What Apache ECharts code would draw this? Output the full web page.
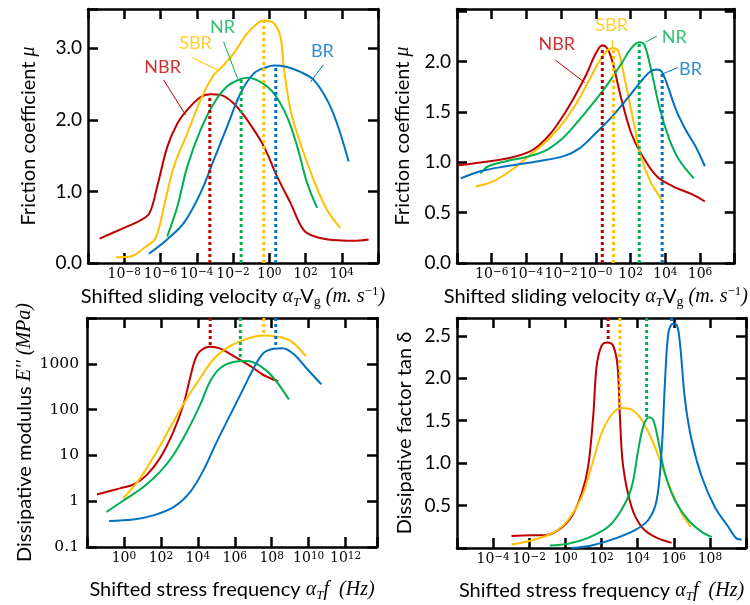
<!DOCTYPE html>
<html><head><meta charset="utf-8">
<script src="https://cdn.jsdelivr.net/npm/echarts@6/dist/echarts.min.js"></script>
<style>html,body{margin:0;padding:0;background:#fff}#c{width:750px;height:605px}</style>
</head><body><div id="c"></div>
<script>
// ---------- categories ----------
const rubbers = ['NBR', 'SBR', 'NR', 'BR'];
const rubberColors = ['#C00000', '#FFC000', '#00B050', '#0070C0'];

// ---------- Panel A (top-left): friction coefficient vs log10(shifted sliding velocity) ----------
const fricA_NBR = [[-9.36,0.34],[-8.2,0.47],[-7.09,0.60],[-6.6,0.70],[-6.18,1.07],[-5.63,1.62],[-5.07,1.95],[-4.52,2.14],[-3.79,2.32],[-3.24,2.36],[-2.69,2.35],[-1.96,2.23],[-1.22,2.0],[-0.30,1.63],[0.43,1.21],[1.17,0.84],[1.90,0.46],[2.64,0.36],[3.55,0.32],[4.66,0.31],[5.48,0.33]];
const fricA_SBR = [[-8.47,0.08],[-7.65,0.09],[-6.91,0.21],[-6.27,0.35],[-5.81,0.79],[-5.26,1.35],[-4.52,1.81],[-3.79,2.28],[-3.06,2.63],[-2.69,2.72],[-1.96,2.93],[-1.22,3.21],[-0.49,3.38],[-0.30,3.39],[0.25,3.35],[0.62,3.16],[0.80,2.74],[1.17,2.14],[1.72,1.67],[2.45,1.16],[3.19,0.74],[3.92,0.49]];
const fricA_NR  = [[-5.63,0.37],[-5.07,0.79],[-4.52,1.35],[-3.79,1.86],[-3.06,2.23],[-2.32,2.47],[-1.59,2.57],[-1.22,2.59],[-0.49,2.53],[0.25,2.37],[0.99,2.04],[1.54,1.63],[2.09,1.12],[2.64,0.77]];
const fricA_BR  = [[-6.64,0.13],[-5.63,0.33],[-4.71,0.56],[-3.79,0.98],[-3.06,1.44],[-2.32,1.91],[-1.59,2.37],[-0.85,2.65],[-0.12,2.74],[0.25,2.76],[0.99,2.74],[1.72,2.67],[2.45,2.56],[3.19,2.28],[3.74,1.95],[4.38,1.42]];
const fricA_peakX = [-3.28, -0.30, -1.55, 0.36];
const fricA_peakY = [2.34, 3.39, 2.56, 2.75];
const fricA_xTickVals = [-8, -6, -4, -2, 0, 2, 4];
const fricA_xTickExps = ['\u22128', '\u22126', '\u22124', '\u22122', '0', '2', '4'];
const fricA_yTickVals = [0, 1, 2, 3];
const fricA_yTickLabels = ['0.0', '1.0', '2.0', '3.0'];

// ---------- Panel B (top-right): friction coefficient vs log10(shifted sliding velocity) ----------
const fricB_NBR = [[-7.94,0.97],[-6.09,1.01],[-4.80,1.05],[-3.88,1.10],[-3.32,1.16],[-2.58,1.29],[-1.85,1.47],[-1.10,1.69],[-0.55,1.87],[0.00,2.08],[0.37,2.16],[0.65,2.13],[0.92,2.02],[1.48,1.62],[2.03,1.29],[2.59,1.09],[3.51,0.86],[4.44,0.76],[5.55,0.68],[6.28,0.61]];
const fricB_SBR = [[-6.93,0.76],[-5.91,0.81],[-4.80,0.93],[-3.88,1.06],[-2.96,1.19],[-2.03,1.36],[-1.10,1.59],[-0.37,1.82],[0.19,2.00],[0.74,2.12],[1.02,2.13],[1.30,2.10],[1.67,1.82],[2.22,1.36],[2.59,1.06],[3.14,0.81],[3.79,0.63]];
const fricB_NR  = [[-6.65,0.89],[-6.19,0.96],[-5.17,1.01],[-4.06,1.05],[-2.96,1.11],[-2.03,1.22],[-1.10,1.39],[0.00,1.62],[0.74,1.79],[1.48,1.98],[2.03,2.13],[2.50,2.19],[2.78,2.17],[3.14,1.95],[3.70,1.52],[4.25,1.22],[4.81,1.02],[5.64,0.84]];
const fricB_BR  = [[-7.79,0.84],[-6.65,0.91],[-5.17,0.96],[-3.32,1.01],[-1.85,1.06],[-0.92,1.14],[0.00,1.29],[0.92,1.45],[1.85,1.64],[2.59,1.80],[3.14,1.90],[3.51,1.92],[3.79,1.90],[4.07,1.79],[4.62,1.52],[5.18,1.32],[5.73,1.16],[6.28,0.96]];
const fricB_peakX = [0.37, 1.02, 2.50, 3.82];
const fricB_peakY = [2.15, 2.13, 2.19, 1.90];
const fricB_xTickVals = [-6, -4, -2, 0, 2, 4, 6];
const fricB_xTickExps = ['\u22126', '\u22124', '\u22122', '\u22120', '2', '4', '6'];
const fricB_yTickVals = [0, 0.5, 1, 1.5, 2];
const fricB_yTickLabels = ['0.0', '0.5', '1.0', '1.5', '2.0'];

// ---------- Panel C (bottom-left): log10 E'' (MPa) vs log10(shifted frequency) ----------
const modC_NBR = [[-1.46,0.145],[-0.22,0.28],[0.50,0.36],[1.23,0.57],[1.95,0.94],[2.68,1.52],[3.22,2.11],[3.58,2.69],[3.86,3.10],[4.13,3.28],[4.67,3.37],[5.22,3.33],[5.94,3.17],[6.85,2.95],[7.57,2.75],[8.35,2.62]];
const modC_SBR = [[-0.04,0.06],[0.87,0.50],[1.77,1.08],[2.68,1.74],[3.41,2.25],[4.13,2.69],[4.85,3.10],[5.76,3.39],[6.67,3.55],[7.57,3.62],[8.30,3.59],[9.02,3.50],[9.84,3.17]];
const modC_NR  = [[-0.95,-0.235],[0.14,0.06],[1.05,0.31],[1.95,0.64],[2.68,1.01],[3.41,1.52],[4.13,2.11],[4.67,2.62],[5.22,2.91],[5.94,3.04],[6.67,3.06],[7.39,2.95],[8.11,2.69],[8.93,2.22]];
const modC_BR  = [[-0.80,-0.43],[0.50,-0.40],[1.59,-0.31],[2.68,-0.13],[3.58,0.20],[4.31,0.68],[5.03,1.30],[5.76,1.89],[6.48,2.47],[7.03,2.91],[7.57,3.24],[8.11,3.33],[8.57,3.34],[9.20,3.21],[9.93,2.88],[10.69,2.55]];
const modC_peakX = [4.67, 7.57, 6.30, 8.22];
const modC_peakY = [3.37, 3.62, 3.05, 3.33];
const modC_xTickVals = [0, 2, 4, 6, 8, 10, 12];
const modC_xTickExps = ['0', '2', '4', '6', '8', '10', '12'];
const modC_yTickVals = [-1, 0, 1, 2, 3];
const modC_yTickLabels = ['0.1', '1', '10', '100', '1000'];

// ---------- Panel D (bottom-right): tan delta vs log10(shifted frequency) ----------
const tanD_NBR = [[-2.98,0.14],[-1.88,0.15],[-1.14,0.15],[-0.40,0.21],[0.34,0.37],[0.90,0.64],[1.26,0.96],[1.54,1.55],[1.73,2.14],[2.00,2.38],[2.32,2.42],[2.65,2.38],[2.89,2.14],[3.02,1.55],[3.20,0.96],[3.67,0.48],[4.22,0.25],[4.96,0.13],[5.88,0.06]];
const tanD_SBR = [[-2.98,0.04],[-1.69,0.10],[-0.58,0.19],[0.15,0.33],[0.90,0.60],[1.45,0.96],[2.00,1.35],[2.56,1.57],[3.11,1.65],[3.67,1.63],[4.22,1.51],[4.96,1.19],[5.70,0.76],[6.44,0.41],[6.95,0.25]];
const tanD_NR  = [[-0.86,0.03],[0.15,0.05],[1.26,0.12],[2.37,0.25],[3.11,0.45],[3.67,0.72],[4.03,1.15],[4.31,1.43],[4.63,1.54],[4.86,1.51],[5.14,1.27],[5.51,0.88],[6.07,0.56],[6.80,0.33],[7.55,0.19],[8.10,0.13]];
const tanD_BR  = [[0.34,0.00],[1.45,0.03],[2.74,0.11],[3.85,0.21],[4.59,0.33],[5.05,0.56],[5.33,1.15],[5.51,1.94],[5.70,2.53],[5.94,2.64],[6.16,2.63],[6.34,2.42],[6.62,1.75],[6.99,1.27],[7.55,0.84],[8.28,0.48],[9.02,0.25],[9.49,0.11],[9.76,0.10]];
const tanD_peakX = [2.37, 3.02, 4.50, 5.88];
const tanD_peakY = [2.42, 1.65, 1.54, 2.64];
const tanD_xTickVals = [-4, -2, 0, 2, 4, 6, 8];
const tanD_xTickExps = ['\u22124', '\u22122', '0', '2', '4', '6', '8'];
const tanD_yTickVals = [0.5, 1, 1.5, 2, 2.5];
const tanD_yTickLabels = ['0.5', '1.0', '1.5', '2.0', '2.5'];

// ---------- styling / layout ----------
const SANS = 'Lato';
const SERIF = 'Liberation Serif';
const TICKSERIF = 'DejaVu Serif';
const INK = '#000';

const panels = [
  { grid: {left: 88, top: 9, width: 290, height: 254}, xr: [-10, 6], yr: [0, 3.55], yInt: 1,
    series: [fricA_NBR, fricA_SBR, fricA_NR, fricA_BR], peakX: fricA_peakX, peakY: fricA_peakY, dotFromTop: false,
    xVals: fricA_xTickVals, xExps: fricA_xTickExps, yVals: fricA_yTickVals, yLabels: fricA_yTickLabels, ySerif: false,
    xName: '{t|Shifted sliding velocity }{m|\u03b1}{sub|T}{t|V}{subu|g}{m| (m. s}{sup|\u22121}{m|)}', xGap: 22,
    yName: '{t|Friction coefficient }{m|\u03bc}', yGap: 47,
    // annotation [labelX, labelY, lineX1, lineY1, lineX2, lineY2]
    notes: [[-5.88,2.74,-5.83,2.56,-4.62,2.07],[-4.07,3.07,-4.23,2.87,-2.80,2.69],[-2.58,3.30,-2.52,3.09,-1.75,2.58],[2.93,2.96,2.99,2.77,2.27,2.53]] },
  { grid: {left: 457, top: 9, width: 289, height: 254}, xr: [-8, 8], yr: [0, 2.52], yInt: 0.5,
    series: [fricB_NBR, fricB_SBR, fricB_NR, fricB_BR], peakX: fricB_peakX, peakY: fricB_peakY, dotFromTop: false,
    xVals: fricB_xTickVals, xExps: fricB_xTickExps, yVals: fricB_yTickVals, yLabels: fricB_yTickLabels, ySerif: false,
    xName: '{t|Shifted sliding velocity }{m|\u03b1}{sub|T}{t|V}{subu|g}{m| (m. s}{sup|\u22121}{m|)}', xGap: 22,
    yName: '{t|Friction coefficient }{m|\u03bc}', yGap: 42,
    notes: [[-2.25,2.17,-2.31,2.01,-0.64,1.79],[0.91,2.36,0.96,2.21,0.96,2.13],[4.51,2.24,3.51,2.25,2.85,2.19],[5.45,1.92,4.73,1.94,3.90,1.88]] },
  { grid: {left: 87, top: 318, width: 290, height: 229}, xr: [-2, 13.7], yr: [-1, 4], yInt: 1,
    series: [modC_NBR, modC_SBR, modC_NR, modC_BR], peakX: modC_peakX, peakY: modC_peakY, dotFromTop: true,
    xVals: modC_xTickVals, xExps: modC_xTickExps, yVals: modC_yTickVals, yLabels: modC_yTickLabels, ySerif: true,
    xName: '{t|Shifted stress frequency }{m|\u03b1}{sub|T}{m|f  (Hz)}', xGap: 31,
    yName: '{t|Dissipative modulus }{m|E\u2032\u2032 (MPa)}', yGap: 50,
    notes: [] },
  { grid: {left: 457, top: 318, width: 289, height: 230}, xr: [-6, 10], yr: [0, 2.71], yInt: 0.5,
    series: [tanD_NBR, tanD_SBR, tanD_NR, tanD_BR], peakX: tanD_peakX, peakY: tanD_peakY, dotFromTop: true,
    xVals: tanD_xTickVals, xExps: tanD_xTickExps, yVals: tanD_yTickVals, yLabels: tanD_yTickLabels, ySerif: false,
    xName: '{t|Shifted stress frequency }{m|\u03b1}{sub|T}{m|f  (Hz)}', xGap: 31,
    yName: '{t|Dissipative factor tan \u03b4}', yGap: 40,
    notes: [] }
];

const nameRich = {
  t: {fontFamily: SANS, fontSize: 20, color: INK, lineHeight: 24},
  m: {fontFamily: SERIF, fontStyle: 'italic', fontSize: 20, color: INK, lineHeight: 24},
  sub: {fontFamily: SERIF, fontStyle: 'italic', fontSize: 13, color: INK, lineHeight: 13, verticalAlign: 'bottom'},
  subu: {fontFamily: SERIF, fontSize: 14, color: INK, lineHeight: 13, verticalAlign: 'bottom'},
  sup: {fontFamily: SERIF, fontSize: 13, color: INK, lineHeight: 13, verticalAlign: 'top'}
};
const tickRich = {
  base: {fontFamily: TICKSERIF, fontSize: 14, color: INK, lineHeight: 14, padding: [3, 0, 0, 0], verticalAlign: 'bottom'},
  sp: {fontFamily: TICKSERIF, fontSize: 10.5, color: INK, lineHeight: 10, verticalAlign: 'top'}
};
const lineSt = {color: INK, width: 2.5};
const baseAxis = {
  type: 'value',
  axisLine: {show: true, onZero: false, lineStyle: lineSt},
  axisTick: {show: true, inside: true, length: 10, lineStyle: lineSt},
  splitLine: {show: false}
};
function findIdx(vals, v) { return vals.findIndex(t => Math.abs(t - v) < 1e-6); }

const option = {
  animation: false,
  backgroundColor: '#fff',
  grid: [], xAxis: [], yAxis: [], series: []
};

panels.forEach((p, gi) => {
  option.grid.push(Object.assign({containLabel: false}, p.grid));
  option.xAxis.push(Object.assign({}, baseAxis, {
    gridIndex: gi, position: 'bottom', min: p.xr[0], max: p.xr[1], interval: 2,
    axisLabel: {margin: 4, rich: tickRich, showMinLabel: true, showMaxLabel: true,
      fontFamily: TICKSERIF, fontSize: 14, color: INK,
      formatter: v => { const i = findIdx(p.xVals, v); return i < 0 ? '' : '{base|10}{sp|' + p.xExps[i] + '}'; }},
    name: p.xName, nameLocation: 'middle', nameGap: p.xGap,
    nameTextStyle: {rich: nameRich, fontFamily: SANS, fontSize: 20, color: INK}
  }));
  option.xAxis.push(Object.assign({}, baseAxis, {
    gridIndex: gi, position: 'top', min: p.xr[0], max: p.xr[1], interval: 2, axisLabel: {show: false}
  }));
  option.yAxis.push(Object.assign({}, baseAxis, {
    gridIndex: gi, position: 'left', min: p.yr[0], max: p.yr[1], interval: p.yInt,
    axisLabel: {margin: p.ySerif ? 8 : 6, showMinLabel: true, color: INK,
      fontFamily: p.ySerif ? TICKSERIF : SANS, fontSize: p.ySerif ? 15.5 : 19,
      formatter: v => { const i = findIdx(p.yVals, v); return i < 0 ? '' : p.yLabels[i]; }},
    name: p.yName, nameLocation: 'middle', nameGap: p.yGap, nameRotate: 90,
    nameTextStyle: {rich: nameRich, fontFamily: SANS, fontSize: 20, color: INK}
  }));
  option.yAxis.push(Object.assign({}, baseAxis, {
    gridIndex: gi, position: 'right', min: p.yr[0], max: p.yr[1], interval: p.yInt, axisLabel: {show: false}
  }));
  const xi = gi * 2, yi = gi * 2;
  p.series.forEach((d, k) => {
    option.series.push({
      type: 'line', name: rubbers[k], xAxisIndex: xi, yAxisIndex: yi, data: d,
      smooth: 0.35, showSymbol: false, symbol: 'none', silent: true,
      lineStyle: {color: rubberColors[k], width: 2}, z: 3
    });
  });
  p.peakX.forEach((x, k) => {
    const yEdge = p.dotFromTop ? p.yr[1] : p.yr[0];
    option.series.push({
      type: 'line', xAxisIndex: xi, yAxisIndex: yi, data: [[x, yEdge], [x, p.peakY[k]]],
      symbol: 'none', silent: true,
      lineStyle: {color: rubberColors[k], width: 3, type: [3, 3]}, z: 4
    });
  });
  p.notes.forEach((n, k) => {
    option.series.push({
      type: 'line', xAxisIndex: xi, yAxisIndex: yi, data: [[n[2], n[3]], [n[4], n[5]]],
      symbol: 'none', silent: true, lineStyle: {color: rubberColors[k], width: 1}, z: 5
    });
    option.series.push({
      type: 'scatter', xAxisIndex: xi, yAxisIndex: yi, data: [[n[0], n[1]]],
      symbolSize: 0, silent: true, z: 6,
      label: {show: true, position: 'inside', formatter: rubbers[k], color: rubberColors[k],
        fontFamily: SANS, fontSize: 18}
    });
  });
});

const chart = echarts.init(document.getElementById('c'), null, {renderer: 'canvas'});
chart.setOption(option);
</script></body></html>
